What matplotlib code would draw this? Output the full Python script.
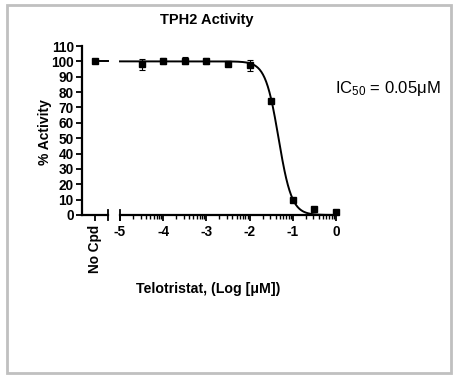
import numpy as np
import matplotlib
matplotlib.use("Agg")
import matplotlib.pyplot as plt
from matplotlib.patches import Rectangle

plt.rcParams['font.family'] = ['Liberation Sans', 'DejaVu Sans']
plt.rcParams['mathtext.fontset'] = 'custom'
plt.rcParams['mathtext.rm'] = 'Liberation Sans'
plt.rcParams['mathtext.it'] = 'Liberation Sans'

# Data
log_conc = [-4.5, -4.0, -3.5, -3.0, -2.5, -2.0, -1.5, -1.0, -0.5, 0.0]
activity = [98.0, 100.0, 100.5, 100.5, 98.5, 97.5, 74.5, 9.5, 3.7, 1.8]
errors   = [3.5, 2.0, 2.5, 2.0, 0.5, 3.5, 0.5, 0.5, 0.3, 0.3]
nocpd_value = 100.0
nocpd_err = 0.5

# Fit parameters (4PL)
top, bottom, log_ic50, hill = 100.0, 0.0, -1.33, 2.85

def fit(x):
    return bottom + (top - bottom) / (1 + 10 ** ((np.asarray(x) - log_ic50) * hill))

W, H = 457, 379
fig = plt.figure(figsize=(W / 100, H / 100), dpi=100)

def px(x0, y0, x1, y1):
    return [x0 / W, 1 - y1 / H, (x1 - x0) / W, (y1 - y0) / H]

y_top, y_bot = 46, 215
axL = fig.add_axes(px(82, y_top, 108, y_bot))
axM = fig.add_axes(px(120, y_top, 336, y_bot))

TS = 9.8
for ax in (axL, axM):
    ax.set_ylim(0, 110)
    ax.spines['top'].set_visible(False)
    ax.spines['right'].set_visible(False)
    ax.patch.set_visible(False)
    for s in ax.spines.values():
        s.set_linewidth(1.6)
    ax.tick_params(axis='both', width=1.3, length=4.5, labelsize=TS, pad=2.5)

# Left (No Cpd) segment
axL.set_xlim(0, 2)
axL.set_yticks(np.arange(0, 111, 10))
axL.set_yticklabels([str(v) for v in range(0, 111, 10)], fontweight='bold', fontsize=TS)
axL.tick_params(axis='y', pad=1.5)
axL.set_xticks([1])
axL.set_xticklabels(['No Cpd'], rotation=90, fontweight='bold', fontsize=TS)
axL.errorbar([1], [nocpd_value], yerr=[nocpd_err], fmt='s', color='black',
             ms=3.8, capsize=2.5, elinewidth=0.8, capthick=0.8, clip_on=False, zorder=5)
xl = np.linspace(1.4, 2, 10)
axL.plot(xl, fit(np.full_like(xl, -6.0)), color='black', lw=1.4, clip_on=False)
axL.plot([2, 2], [-3, 3], color='black', lw=1.3, clip_on=False)

# Main segment
axM.set_xlim(-5, 0)
axM.spines['left'].set_visible(False)
axM.tick_params(axis='y', left=False, labelleft=False)
axM.set_xticks([-5, -4, -3, -2, -1, 0])
axM.set_xticklabels(['-5', '-4', '-3', '-2', '-1', '0'], fontweight='bold', fontsize=TS)
minor = []
for d in range(-5, 0):
    for k in range(2, 10):
        minor.append(d + np.log10(k))
axM.set_xticks(minor, minor=True)
axM.tick_params(axis='x', which='minor', length=2.8, width=1.0)
axM.plot([-5, -5], [-3, 3], color='black', lw=1.3, clip_on=False)

xc = np.linspace(-5, 0, 400)
axM.plot(xc, fit(xc), color='black', lw=1.4, clip_on=False)
axM.errorbar(log_conc, activity, yerr=errors, fmt='s', color='black',
             ms=3.8, capsize=2.5, elinewidth=0.8, capthick=0.8, clip_on=False, zorder=5)

# Texts
fig.text(207 / W, 1 - 20 / H, 'TPH2 Activity', ha='center', va='center',
         fontsize=10.5, fontweight='bold')
fig.text(45 / W, 1 - 132 / H, '% Activity', ha='center', va='center',
         rotation=90, fontsize=10, fontweight='bold')
fig.text(208 / W, 1 - 289 / H, 'Telotristat, (Log [\u03bcM])', ha='center', va='center',
         fontsize=10.2, fontweight='bold')
fig.text(335 / W, 1 - 88 / H, r'IC$_{\mathrm{50}}$ = 0.05$\mathrm{\mu}$M', ha='left', va='center',
         fontsize=12)

# Frame border
fig.patches.append(Rectangle((7 / W, 1 - 373 / H), (451 - 7) / W, (373 - 5) / H,
                             transform=fig.transFigure, fill=False,
                             edgecolor='#c0c0c0', lw=2))

fig.savefig('out.png', dpi=100)
